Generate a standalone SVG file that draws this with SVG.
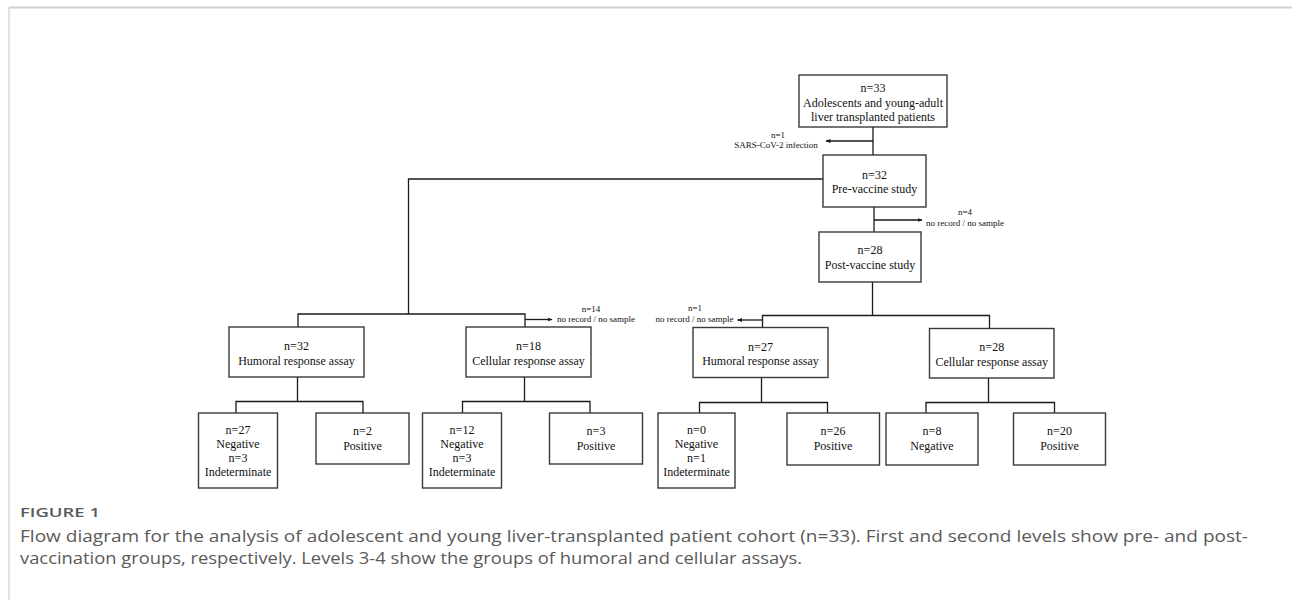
<svg xmlns="http://www.w3.org/2000/svg" width="1292" height="600" viewBox="0 0 1292 600">
<style>
.box{fill:#fff;stroke:#3a3a3a;stroke-width:1.4}
.t{font-family:"Liberation Serif","Times New Roman",serif;font-size:12px;fill:#111;text-anchor:middle}
.s{font-family:"Liberation Serif","Times New Roman",serif;font-size:9px;fill:#111;text-anchor:middle}
.ln{fill:none;stroke:#1a1a1a;stroke-width:1.3}
.cap{font-family:"Open Sans","Noto Sans",sans-serif;fill:#5a5a5a}
</style>
<defs>
<marker id="ah" viewBox="0 0 10 10" refX="9" refY="5" markerWidth="5" markerHeight="5" orient="auto" markerUnits="userSpaceOnUse">
<path d="M0,1 L10,5 L0,9 z" fill="#1a1a1a"/>
</marker>
</defs>
<rect x="0" y="0" width="1292" height="600" fill="#fff"/>
<g id="frame">
<line x1="9" y1="7.5" x2="1292" y2="7.5" stroke="#cfcfcf" stroke-width="2"/>
<line x1="9" y1="7" x2="9" y2="600" stroke="#cfcfcf" stroke-width="1.2"/>
</g>
<g id="connectors">
<path class="ln" d="M873,127 V155"/>
<path class="ln" d="M873,141 H826" marker-end="url(#ah)"/>
<path class="ln" d="M823,179 H408.5 V314"/>
<path class="ln" d="M874,207 V232"/>
<path class="ln" d="M874,220 H922" marker-end="url(#ah)"/>
<path class="ln" d="M298,327 V314 H525 V327"/>
<path class="ln" d="M525,319.5 H552" marker-end="url(#ah)"/>
<path class="ln" d="M872.5,282 V315.5"/>
<path class="ln" d="M762.5,327.5 V315.5 H989.5 V328.5"/>
<path class="ln" d="M762.5,320 H737.5" marker-end="url(#ah)"/>
<path class="ln" d="M297.5,377 V401.5"/>
<path class="ln" d="M236,413 V401.5 H363 V413"/>
<path class="ln" d="M524.5,377 V401.5"/>
<path class="ln" d="M462.5,413 V401.5 H590 V413"/>
<path class="ln" d="M761.5,378 V402.5"/>
<path class="ln" d="M699.5,413 V402.5 H827.5 V413"/>
<path class="ln" d="M988.5,378 V402.5"/>
<path class="ln" d="M926,413 V402.5 H1054.5 V413"/>
</g>
<g id="exclusion-labels">
<text class="s" x="778" y="137.5">n=1</text>
<text class="s" x="776" y="148">SARS-CoV-2 infection</text>
<text class="s" x="965" y="215">n=4</text>
<text class="s" x="965" y="226">no record / no sample</text>
<text class="s" x="591" y="311.5">n=14</text>
<text class="s" x="596" y="322">no record / no sample</text>
<text class="s" x="695" y="311">n=1</text>
<text class="s" x="694.5" y="322">no record / no sample</text>
</g>
<g id="n-root">
<rect class="box" x="799" y="75" width="148" height="52"/>
<text class="t" x="873" y="92">n=33</text>
<text class="t" x="873" y="106.5">Adolescents and young-adult</text>
<text class="t" x="873" y="120.5">liver transplanted patients</text>
</g>
<g id="n-pre">
<rect class="box" x="823" y="155" width="103" height="52"/>
<text class="t" x="874.5" y="178.5">n=32</text>
<text class="t" x="874.5" y="193">Pre-vaccine study</text>
</g>
<g id="n-post">
<rect class="box" x="819" y="232" width="102" height="50"/>
<text class="t" x="870" y="254">n=28</text>
<text class="t" x="870" y="269">Post-vaccine study</text>
</g>
<g id="n-hum-pre">
<rect class="box" x="229" y="327" width="135" height="50"/>
<text class="t" x="296.5" y="350">n=32</text>
<text class="t" x="296.5" y="364.5">Humoral response assay</text>
</g>
<g id="n-cel-pre">
<rect class="box" x="466" y="327" width="125" height="50"/>
<text class="t" x="528.5" y="350">n=18</text>
<text class="t" x="528.5" y="364.5">Cellular response assay</text>
</g>
<g id="n-hum-post">
<rect class="box" x="693" y="327.5" width="135" height="50"/>
<text class="t" x="760.5" y="350.5">n=27</text>
<text class="t" x="760.5" y="365">Humoral response assay</text>
</g>
<g id="n-cel-post">
<rect class="box" x="929.5" y="328.5" width="124.5" height="49.5"/>
<text class="t" x="991.75" y="351">n=28</text>
<text class="t" x="991.75" y="365.5">Cellular response assay</text>
</g>
<g id="n-hum-pre-neg">
<rect class="box" x="198.5" y="413" width="79" height="75"/>
<text class="t" x="238" y="434">n=27</text>
<text class="t" x="238" y="448">Negative</text>
<text class="t" x="238" y="462">n=3</text>
<text class="t" x="238" y="476">Indeterminate</text>
</g>
<g id="n-hum-pre-pos">
<rect class="box" x="316" y="413" width="93" height="51"/>
<text class="t" x="362.5" y="435">n=2</text>
<text class="t" x="362.5" y="449.5">Positive</text>
</g>
<g id="n-cel-pre-neg">
<rect class="box" x="422.5" y="413" width="79" height="75"/>
<text class="t" x="462" y="434">n=12</text>
<text class="t" x="462" y="448">Negative</text>
<text class="t" x="462" y="462">n=3</text>
<text class="t" x="462" y="476">Indeterminate</text>
</g>
<g id="n-cel-pre-pos">
<rect class="box" x="549.5" y="413" width="93" height="51"/>
<text class="t" x="596" y="435">n=3</text>
<text class="t" x="596" y="449.5">Positive</text>
</g>
<g id="n-hum-post-neg">
<rect class="box" x="658" y="413" width="77" height="75"/>
<text class="t" x="696.5" y="434">n=0</text>
<text class="t" x="696.5" y="448">Negative</text>
<text class="t" x="696.5" y="462">n=1</text>
<text class="t" x="696.5" y="476">Indeterminate</text>
</g>
<g id="n-hum-post-pos">
<rect class="box" x="787" y="413" width="92.5" height="52"/>
<text class="t" x="833" y="435">n=26</text>
<text class="t" x="833" y="449.5">Positive</text>
</g>
<g id="n-cel-post-neg">
<rect class="box" x="886" y="413" width="92" height="52"/>
<text class="t" x="932" y="435">n=8</text>
<text class="t" x="932" y="449.5">Negative</text>
</g>
<g id="n-cel-post-pos">
<rect class="box" x="1013.5" y="413" width="92" height="52"/>
<text class="t" x="1059.5" y="435">n=20</text>
<text class="t" x="1059.5" y="449.5">Positive</text>
</g>
<g id="caption">
<text class="cap" x="20" y="517" font-size="13" font-weight="600" textLength="80" lengthAdjust="spacingAndGlyphs">FIGURE 1</text>
<text class="cap" x="20" y="542" font-size="17" textLength="1228" lengthAdjust="spacingAndGlyphs">Flow diagram for the analysis of adolescent and young liver-transplanted patient cohort (n=33). First and second levels show pre- and post-</text>
<text class="cap" x="20" y="564" font-size="17" textLength="782" lengthAdjust="spacingAndGlyphs">vaccination groups, respectively. Levels 3-4 show the groups of humoral and cellular assays.</text>
</g>
</svg>
